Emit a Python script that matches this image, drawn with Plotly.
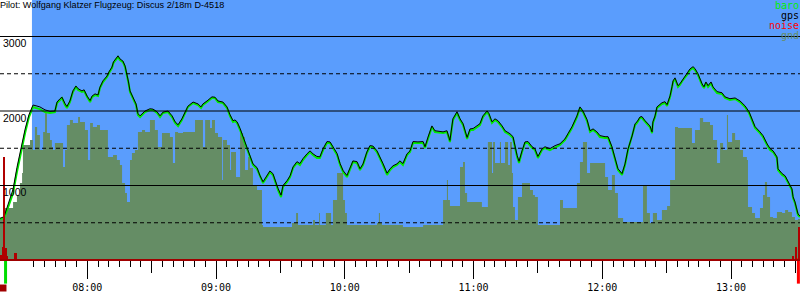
import plotly.graph_objects as go

TITLE = "Pilot: Wolfgang Klatzer Flugzeug: Discus 2/18m D-4518"

# times: minutes after midnight, altitudes in metres
BARO_T = [
    439.3, 441.2, 443.0, 445.4, 447.2, 449.3, 451.0, 452.8, 454.7,
    456.1, 457.9, 460.3, 462.6, 464.9, 465.9, 467.3, 468.2, 469.6, 470.5,
    471.9, 473.3, 474.7, 475.7, 477.5, 478.5, 479.9, 481.3, 482.2, 483.6,
    485.0, 485.9, 487.3, 489.2, 490.1, 491.5, 492.2, 493.4, 494.3, 495.2,
    496.6, 497.6, 498.5, 499.2, 499.9, 501.3, 502.7, 503.6, 504.6, 506.9,
    509.2, 510.6, 512.5, 513.9, 515.3, 517.6, 519.5, 520.9, 522.3, 524.1,
    525.5, 526.9, 529.3, 531.6, 533.0, 533.9, 535.8, 538.1, 539.5, 540.9,
    543.2, 545.1, 546.5,
    547.9, 548.8, 549.8, 551.2, 552.6, 554.4, 555.8, 557.2, 559.1, 560.5,
    561.9, 563.7, 565.1, 566.5, 567.5, 568.9, 570.3, 571.2, 573.1, 574.5,
    575.9, 577.7, 579.1, 580.5, 582.4, 583.8, 585.2, 587.0, 588.4, 589.9,
    591.7, 593.1, 594.5, 596.4, 597.8, 599.2, 601.0, 602.4, 603.8, 605.7,
    607.1, 608.5, 610.3, 611.7, 613.1, 615.0, 616.4, 617.8, 619.7, 621.1,
    622.5, 624.3, 625.7, 627.1, 629.0, 630.4, 631.8, 634.1, 636.5, 637.4,
    638.8, 640.6, 642.0, 644.4, 645.8, 647.6, 649.0, 650.4, 652.3, 653.7,
    655.1, 657.0, 658.4, 659.8, 661.6, 663.0,
    664.4, 666.3, 667.2, 668.6, 670.0, 671.4, 673.3, 674.7, 677.0, 678.4,
    680.3, 681.2, 682.6, 684.0, 685.4, 687.3, 688.6, 690.0, 691.9, 693.3,
    695.6, 698.0, 700.3, 702.6, 704.0, 705.9, 708.2, 709.6, 711.0, 712.9,
    714.3, 715.7, 717.5, 718.9, 721.3, 722.7, 724.5, 725.9, 727.3, 729.2,
    730.6, 732.0, 733.9, 735.3, 736.2, 737.6, 738.5, 739.9, 741.3, 742.2,
    743.2, 743.6, 744.6, 745.5, 747.8, 749.2, 750.2, 751.6, 752.5, 753.0,
    753.9, 755.3, 756.2, 757.6, 759.5, 760.9, 762.3, 763.2, 764.6, 765.5,
    766.5, 767.4, 768.3, 769.3, 770.7, 771.6, 773.5, 775.8, 777.2, 779.5,
    781.9, 784.2, 786.5, 788.4, 790.3, 791.2, 793.5, 794.9, 796.8, 798.2,
    799.6, 801.4, 801.9, 803.8, 805.2, 806.6, 808.4, 808.9, 809.8, 811.2,
    812.1,
]
BARO_ALT = [
    550, 564, 698, 899, 1181, 1490, 1704, 1919, 2053,
    2040, 2026, 1986, 1973, 1986, 2107, 2147, 2174, 2080, 2040,
    2120, 2255, 2322, 2281, 2255, 2268, 2187, 2120, 2187, 2214,
    2201, 2308, 2389, 2456, 2510, 2577, 2644, 2684, 2724, 2684,
    2657, 2590, 2483, 2375, 2255, 2174, 2080, 1946, 1919, 1986,
    2013, 2013, 1973, 1919, 1973, 1986, 1919, 1839, 1798, 1879,
    1973, 2053, 2107, 2080, 2040, 2080, 2120, 2174, 2174, 2120,
    2107, 2040, 1932,
    1852, 1865, 1839, 1745, 1637, 1516, 1382, 1275, 1221, 1114,
    1033, 1114, 1181, 1141, 1047, 939, 845, 980, 1047, 1114,
    1235, 1302, 1275, 1342, 1409, 1449, 1409, 1369, 1369, 1476,
    1570, 1570, 1503, 1409, 1275, 1181, 1114, 1208, 1315, 1302,
    1208, 1275, 1436, 1516, 1516, 1449, 1369, 1275, 1141, 1208,
    1248, 1275, 1315, 1275, 1409, 1449, 1570, 1570, 1570, 1503,
    1637, 1785, 1718, 1704, 1704, 1718, 1584, 1879, 1973, 1879,
    1812, 1624, 1745, 1745, 1785, 1812,
    1919, 1986, 1946, 1839, 1879, 1852, 1785, 1718, 1678, 1637,
    1382, 1302, 1449, 1570, 1570, 1503, 1476, 1369, 1476, 1503,
    1476, 1516, 1543, 1610, 1678, 1771, 1919, 2040, 1986, 1865,
    1718, 1745, 1704, 1651, 1637, 1637, 1503, 1342, 1208, 1141,
    1275, 1476, 1651, 1812, 1839, 1906, 1906, 1852, 1812, 1785,
    1704, 1839, 1919, 2040, 2094, 2107, 2067, 2188, 2308, 2389,
    2429, 2322, 2349, 2416, 2483, 2550, 2577, 2550, 2483, 2416,
    2349, 2308, 2375, 2322, 2375, 2308, 2241, 2228, 2174, 2147,
    2161, 2120, 2053, 1973, 1825, 1771, 1704, 1651, 1543, 1476,
    1449, 1369, 1208, 1141, 1114, 1033, 939, 832, 765, 604,
    577,
]
GPS_ALT = [
    560, 580, 740, 950, 1240, 1545, 1755, 1950, 2080,
    2070, 2055, 2015, 1995, 2000, 2120, 2165, 2185, 2100, 2060,
    2135, 2270, 2335, 2300, 2270, 2285, 2200, 2140, 2200, 2230,
    2215, 2320, 2405, 2470, 2525, 2590, 2660, 2700, 2740, 2700,
    2670, 2605, 2500, 2390, 2270, 2190, 2095, 1965, 1935, 2000,
    2030, 2025, 1990, 1935, 1985, 2000, 1935, 1855, 1815, 1895,
    1985, 2065, 2120, 2095, 2055, 2095, 2135, 2190, 2185, 2135,
    2120, 2055, 1950,
    1870, 1880, 1855, 1765, 1655, 1535, 1400, 1290, 1240, 1130,
    1050, 1130, 1195, 1160, 1065, 960, 870, 1000, 1065, 1130,
    1250, 1320, 1295, 1360, 1425, 1465, 1425, 1390, 1385, 1495,
    1590, 1585, 1520, 1430, 1295, 1200, 1135, 1225, 1330, 1320,
    1225, 1290, 1450, 1535, 1530, 1465, 1390, 1295, 1165, 1225,
    1265, 1290, 1330, 1295, 1425, 1465, 1590, 1585, 1590, 1520,
    1650, 1800, 1735, 1720, 1720, 1735, 1605, 1895, 1990, 1895,
    1830, 1645, 1760, 1765, 1800, 1830,
    1935, 2000, 1965, 1855, 1895, 1870, 1800, 1735, 1695, 1655,
    1405, 1325, 1465, 1585, 1590, 1520, 1495, 1390, 1490, 1520,
    1495, 1535, 1560, 1625, 1695, 1790, 1935, 2055, 2000, 1885,
    1735, 1760, 1720, 1670, 1655, 1655, 1520, 1360, 1225, 1160,
    1290, 1490, 1665, 1830, 1855, 1920, 1925, 1870, 1830, 1800,
    1720, 1855, 1935, 2055, 2110, 2125, 2085, 2205, 2325, 2405,
    2445, 2340, 2365, 2430, 2500, 2565, 2595, 2570, 2500, 2430,
    2365, 2325, 2390, 2340, 2390, 2325, 2260, 2245, 2190, 2165,
    2175, 2135, 2070, 1990, 1840, 1790, 1720, 1670, 1560, 1495,
    1465, 1385, 1225, 1160, 1130, 1050, 955, 850, 780, 620,
    590,
]

GND_T = [
    439.3, 440.7, 441.6, 445.4, 447.2, 448.6, 449.6, 450.0, 453.3, 454.7,
    455.6, 456.6, 457.9, 459.4, 460.3, 461.2, 462.6, 463.5, 464.0, 464.9,
    468.7, 469.6, 470.5, 471.9, 473.3, 475.7, 476.6, 478.9, 480.3, 481.3,
    482.6, 484.5, 485.9, 489.6, 492.0, 493.8, 495.2, 496.2, 497.6, 498.5,
    499.9, 500.8, 502.2, 503.6, 505.5, 506.9, 509.2, 511.5, 512.9, 514.8,
    518.5, 519.9, 520.9, 522.3, 524.6, 530.2, 533.9, 534.9, 537.2, 538.1,
    539.5, 540.9, 542.8, 543.2, 545.1, 546.5, 547.0, 549.3, 551.2, 552.6,
    553.5, 554.9, 555.8, 557.2, 559.1, 561.4, 561.9, 575.4, 577.3, 578.2,
    585.2, 586.1, 588.0, 588.4, 591.2, 593.6, 594.5, 596.4, 599.2, 600.1,
    601.0, 615.0, 615.9, 616.4, 617.3, 627.1, 636.5, 645.8, 647.6, 648.1,
    649.0, 653.7, 655.1, 656.0, 657.0, 663.0, 663.9, 666.7, 668.6, 669.1,
    670.0, 672.3, 672.8, 674.7, 676.1, 677.0, 677.9, 678.4, 679.3, 680.7,
    682.6, 686.3, 687.7, 688.6, 690.0, 700.3, 701.7, 708.2, 709.6, 711.0,
    712.9, 714.3, 718.0, 721.3, 722.7, 724.5, 725.9, 727.3, 729.7, 739.0,
    740.8, 742.2, 743.6, 745.5, 747.8, 750.2, 751.6, 753.9, 755.3, 761.8,
    763.2, 765.5, 767.0, 770.2, 771.6, 773.5, 774.9, 776.3, 778.1, 778.6,
    780.5, 781.9, 784.2, 785.6, 787.4, 787.9, 789.8, 791.2, 793.5, 794.9,
    795.8, 796.8, 798.2, 799.6, 801.4, 803.8, 805.2, 806.6, 808.4, 809.8,
    811.2, 812.15,
]
GND_ALT = [
    564, 644, 698, 778, 872, 1033, 1168, 1543, 1610, 1476,
    1785, 1678, 1476, 1718, 1973, 1704, 1610, 1516, 1476, 1570,
    1248, 1476, 1812, 1879, 1839, 1919, 1852, 1745, 1342, 1839,
    1785, 1812, 1745, 1382, 1409, 1342, 1275, 1033, 899, 778,
    1342, 1436, 1476, 1718, 1745, 1718, 1879, 1745, 1516, 1704,
    1651, 1302, 1718, 1704, 1718, 1879, 1516, 1879, 1771, 1879,
    1704, 1651, 1074, 1610, 1543, 1208, 1449, 1114, 1704, 1651,
    1208, 1382, 1235, 1007, 939, 470, 443, 497, 631, 470,
    537, 470, 631, 470, 631, 470, 805, 1168, 805, 631,
    470, 497, 631, 497, 470, 443, 470, 805, 1074, 805,
    725, 1248, 1315, 899, 778, 778, 711, 1584, 1168, 1584,
    1302, 1584, 1302, 1584, 1275, 1584, 1168, 711, 537, 845,
    1033, 939, 872, 845, 470, 805, 698, 1033, 1315, 1584,
    1168, 1302, 1302, 1114, 939, 1141, 899, 564, 510, 1007,
    631, 497, 631, 537, 671, 725, 1074, 1785, 1771, 1570,
    1745, 1906, 1852, 1812, 1610, 1302, 1570, 1476, 1946, 1584,
    1704, 1610, 1476, 1382, 1342, 711, 631, 564, 698, 872,
    1047, 845, 577, 564, 644, 631, 671, 644, 577, 537,
    550, 550,
]

NOISE_T = [440.0, 440.9, 441.3, 441.9, 442.6, 446.3, 446.8, 448.6, 808.9, 810.3, 811.7, 812.1]
NOISE_VAL = [67, 174, 1382, 161, 54, 94, 94, 13, 54, 174, 443, 443]

RELEASE_T = 454.2
EVENT_T = [441.9, 811.4]
EVENT_COLORS = ["#00dd00", "#ff0000"]
MARK_T = [440.7]

HOUR_TICKS = [480, 540, 600, 660, 720, 780]
HOUR_LABELS = ["08:00", "09:00", "10:00", "11:00", "12:00", "13:00"]
HALF_TICKS = [450, 510, 570, 630, 690, 750, 810]
ALT_TICKS = [1000, 2000, 3000]
ALT_LABELS = ["1000", "2000", "3000"]
DASH_LEVELS = [500, 1500, 2500]
X_RANGE = [439.31, 812.15]
Y_RANGE = [-537, 3490]
AXIS_POS = 40 / 300  # x axis sits 40 px above the bottom edge

LEGEND = [("baro", "#00ee00"), ("gps", "#000000"), ("noise", "#ff0000"), ("gnd", "#658d65")]
BLUE = "#5a9dfd"
GND_COLOR = "#658d65"
BARO_COLOR = "#00ee00"
NOISE_COLOR = "#b00000"

fig = go.Figure()
fig.add_trace(go.Scatter(x=GND_T, y=GND_ALT, mode="lines", line=dict(width=0, shape="hv"),
                         fill="tozeroy", fillcolor=GND_COLOR, hoverinfo="skip", showlegend=False))
fig.add_trace(go.Scatter(x=BARO_T, y=BARO_ALT, mode="lines", line=dict(color=BARO_COLOR, width=2),
                         showlegend=False))
fig.add_trace(go.Scatter(x=BARO_T, y=GPS_ALT, mode="lines", line=dict(color="black", width=1),
                         showlegend=False))
fig.add_trace(go.Bar(x=NOISE_T, y=NOISE_VAL, width=0.5, marker=dict(color=NOISE_COLOR, line=dict(width=0)),
                     yaxis="y2", showlegend=False))
fig.add_trace(go.Scatter(x=EVENT_T, y=[-148] * len(EVENT_T), mode="markers", cliponaxis=False,
                         marker=dict(symbol="line-ns", size=18, color=EVENT_COLORS,
                                     line=dict(width=3, color=EVENT_COLORS)),
                         showlegend=False, hoverinfo="skip"))
fig.add_trace(go.Scatter(x=MARK_T, y=[-376] * len(MARK_T), mode="markers", cliponaxis=False,
                         marker=dict(symbol="square", size=7, color="#a00000"),
                         showlegend=False, hoverinfo="skip"))
fig.add_trace(go.Scatter(x=[HALF_TICKS[0]], y=[0], xaxis="x2", mode="markers",
                         marker=dict(opacity=0), showlegend=False, hoverinfo="skip"))

shapes = [dict(type="rect", xref="x", yref="y", x0=RELEASE_T, x1=X_RANGE[1], y0=0, y1=Y_RANGE[1],
               fillcolor=BLUE, line=dict(width=0), layer="below")]
for v in ALT_TICKS:
    shapes.append(dict(type="line", xref="paper", yref="y", x0=0, x1=1, y0=v, y1=v,
                       line=dict(color="black", width=1), layer="above"))
for v in DASH_LEVELS:
    shapes.append(dict(type="line", xref="paper", yref="y", x0=0, x1=1, y0=v, y1=v,
                       line=dict(color="black", width=1, dash="4px,3px"), layer="above"))

annotations = [dict(text=TITLE, xref="paper", yref="paper", x=0, y=1, xanchor="left", yanchor="top",
                    showarrow=False, font=dict(family="Liberation Sans", size=9.1, color="black"),
                    borderpad=0, xshift=-1, yshift=1)]
for i, (name, col) in enumerate(LEGEND):
    annotations.append(dict(text=name, xref="paper", yref="paper", x=1, y=1, xanchor="right",
                            yanchor="top", showarrow=False, yshift=-10 * i + 1, borderpad=0,
                            font=dict(family="DejaVu Sans Mono", size=10, color=col)))

fig.update_layout(
    width=800, height=300, autosize=False,
    margin=dict(l=0, r=0, t=0, b=0),
    plot_bgcolor="white", paper_bgcolor="white",
    shapes=shapes, annotations=annotations, bargap=0,
    xaxis=dict(range=X_RANGE, anchor="free", position=AXIS_POS,
               tickmode="array", tickvals=HOUR_TICKS, ticktext=HOUR_LABELS,
               ticks="outside", ticklen=18, tickwidth=1, tickcolor="black",
               showline=True, linecolor="#a00000", linewidth=2, showgrid=False, zeroline=False,
               tickfont=dict(family="DejaVu Sans Mono", size=10, color="black"),
               minor=dict(tickmode="linear", tick0=0, dtick=5, ticks="outside", ticklen=6,
                          tickcolor="black", tickwidth=1, showgrid=False)),
    xaxis2=dict(overlaying="x", matches="x", anchor="free", position=AXIS_POS, side="bottom",
                tickmode="array", tickvals=HALF_TICKS, ticks="outside", ticklen=12, tickwidth=1,
                tickcolor="black", showticklabels=False, showgrid=False, zeroline=False,
                showline=False),
    yaxis=dict(range=Y_RANGE, tickmode="array", tickvals=ALT_TICKS, ticktext=ALT_LABELS,
               ticks="", showgrid=False, zeroline=False, showline=False,
               ticklabelposition="inside", ticklabelshift=7, ticklabelstandoff=0,
               tickfont=dict(family="Liberation Sans", size=10.5, color="black")),
    yaxis2=dict(overlaying="y", matches="y", showticklabels=False, showgrid=False,
                zeroline=False, showline=False, ticks=""),
)

fig.write_html("out.html", config={"displayModeBar": False})
